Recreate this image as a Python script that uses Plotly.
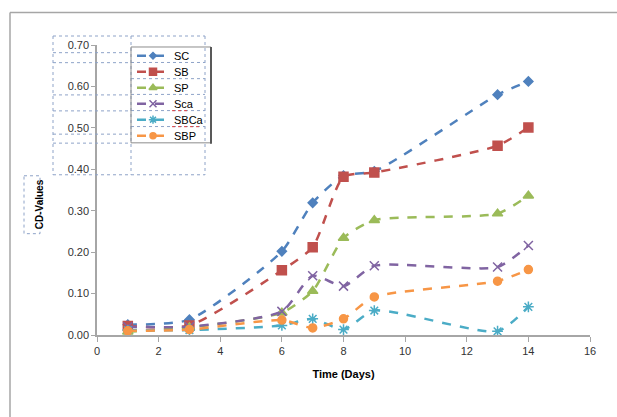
import plotly.graph_objects as go

# Sampling days and CD-values for each treatment
days = [1, 3, 6, 7, 8, 9, 13, 14]
SC = [0.025, 0.037, 0.202, 0.319, 0.385, 0.395, 0.580, 0.612]
SB = [0.022, 0.023, 0.156, 0.212, 0.382, 0.392, 0.457, 0.501]
SP = [0.008, 0.018, 0.054, 0.106, 0.234, 0.277, 0.293, 0.336]
Sca = [0.020, 0.020, 0.057, 0.143, 0.118, 0.167, 0.164, 0.216]
SBCa = [0.012, 0.012, 0.023, 0.039, 0.013, 0.059, 0.009, 0.068]
SBP = [0.010, 0.013, 0.036, 0.017, 0.039, 0.092, 0.130, 0.158]

x_ticks = [0, 2, 4, 6, 8, 10, 12, 14, 16]
y_ticks = [0.0, 0.1, 0.2, 0.3, 0.4, 0.5, 0.6, 0.7]

series = [
    ("SC", SC, "#4F81BD", "diamond", 7),
    ("SB", SB, "#C0504D", "square", 9),
    ("SP", SP, "#9BBB59", "triangle-up", 9),
    ("Sca", Sca, "#8064A2", "x-thin-open", 9),
    ("SBCa", SBCa, "#4BACC6", "asterisk-open", 9),
    ("SBP", SBP, "#F79646", "circle", 8),
]

W, H = 617, 417
L, R, T, B = 97, 27, 45, 81.5
PW, PH = W - L - R, H - T - B

FONT = "Liberation Sans, Arial, sans-serif"


def px(x):
    return (x - L) / PW


def py(y):
    return (H - B - y) / PH


fig = go.Figure()
for name, vals, color, sym, size in series:
    fig.add_trace(go.Scatter(
        x=days, y=vals, name=name, mode="lines+markers", showlegend=False,
        line=dict(color=color, width=2.5, dash="dash", shape="spline", smoothing=0.6),
        marker=dict(symbol=sym, size=size, color=color,
                    line=dict(color=color, width=1.5)),
    ))

# Legend box drawn on its own hidden axes, in pixel units of the box
LG_X0, LG_X1, LG_Y0, LG_Y1 = 131, 211, 47, 143
ROW = (LG_Y1 - LG_Y0) / len(series)
annotations = []
for i, (name, vals, color, sym, size) in enumerate(series):
    yc = LG_Y0 + ROW * (i + 0.55)
    fig.add_trace(go.Scatter(
        x=[137, 169], y=[yc, yc], mode="lines", showlegend=False, hoverinfo="skip",
        line=dict(color=color, width=2.5, dash="dash"), xaxis="x2", yaxis="y2"))
    fig.add_trace(go.Scatter(
        x=[153], y=[yc], mode="markers", showlegend=False, hoverinfo="skip",
        marker=dict(symbol=sym, size=size - 2, color=color, line=dict(color=color, width=1.5)),
        xaxis="x2", yaxis="y2"))
    annotations.append(dict(text=name, xref="x2", yref="y2", x=172, y=yc,
                            xanchor="left", yanchor="middle", showarrow=False,
                            font=dict(family=FONT, size=11, color="#000000")))

shapes = []
# outer chart frame
shapes.append(dict(type="line", xref="paper", yref="paper",
                   x0=px(10), x1=px(620), y0=py(12.5), y1=py(12.5),
                   line=dict(color="#A6A6A6", width=1.5)))
shapes.append(dict(type="line", xref="paper", yref="paper",
                   x0=px(10), x1=px(10), y0=py(12.5), y1=py(420),
                   line=dict(color="#A6A6A6", width=1.5)))

dot = dict(color="#8EA3C8", width=1, dash="dot")


def hline(x0, x1, y):
    shapes.append(dict(type="line", xref="paper", yref="paper",
                       x0=px(x0), x1=px(x1), y0=py(y), y1=py(y), line=dot))


def vline(x, y0, y1):
    shapes.append(dict(type="line", xref="paper", yref="paper",
                       x0=px(x), x1=px(x), y0=py(y0), y1=py(y1), line=dot))


# dotted frame grid around the upper tick labels and legend
hline(53, 205, 36)
hline(53, 205, 175)
vline(53, 36, 175)
vline(205, 36, 175)
vline(131, 36, 175)
for yy in [52.7, 62.7, 95, 111, 134.3, 143.3]:
    hline(53, 131, yy)
for yy in [62.5, 78.7, 94.5, 110.7, 126.7]:
    hline(131, 205, yy)
# dotted box around the y-axis title
shapes.append(dict(type="rect", xref="paper", yref="paper",
                   x0=px(24), x1=px(40), y0=py(176), y1=py(234), line=dot))

# legend border, darker on the right side
shapes.append(dict(type="rect", xref="paper", yref="paper",
                   x0=px(LG_X0), x1=px(LG_X1), y0=py(LG_Y1), y1=py(LG_Y0),
                   line=dict(color="#8C8C8C", width=1)))
shapes.append(dict(type="line", xref="paper", yref="paper",
                   x0=px(LG_X1), x1=px(LG_X1), y0=py(LG_Y1 + 1), y1=py(LG_Y0),
                   line=dict(color="#595959", width=2)))

# spell-check squiggles under two legend names
for i, wpx in [(3, 18), (4, 27)]:
    yy = LG_Y0 + ROW * (i + 0.55) + 7
    shapes.append(dict(type="line", xref="paper", yref="paper",
                       x0=px(172), x1=px(172 + wpx), y0=py(yy), y1=py(yy),
                       line=dict(color="#E04040", width=1, dash="dot")))

annotations.append(dict(text="<b>CD-Values</b>", xref="paper", yref="paper",
                        x=px(32), y=py(205), textangle=-90, showarrow=False,
                        font=dict(family=FONT, size=10, color="#000000")))

fig.update_layout(
    width=W, height=H,
    margin=dict(l=L, r=R, t=T, b=B),
    paper_bgcolor="white", plot_bgcolor="white",
    font=dict(family=FONT, size=11, color="#333333"),
    showlegend=False,
    xaxis=dict(range=[0, 16], tickvals=x_ticks, ticktext=[str(v) for v in x_ticks],
               showgrid=False, zeroline=False, showline=True, linecolor="#A6A6A6",
               linewidth=1.5, ticks="outside", ticklen=5, tickcolor="#A6A6A6",
               title=dict(text="<b>Time (Days)</b>", standoff=14,
                          font=dict(family=FONT, size=11, color="#000000"))),
    yaxis=dict(range=[0, 0.7], tickvals=y_ticks, ticktext=[f"{v:.2f}" for v in y_ticks],
               showgrid=False, zeroline=False, showline=True, linecolor="#A6A6A6",
               linewidth=1.5, ticks="outside", ticklen=4, tickcolor="#A6A6A6"),
    xaxis2=dict(domain=[px(LG_X0), px(LG_X1)], range=[LG_X0, LG_X1], anchor="y2",
                visible=False, fixedrange=True),
    yaxis2=dict(domain=[py(LG_Y1), py(LG_Y0)], range=[LG_Y1, LG_Y0], anchor="x2",
                visible=False, fixedrange=True),
    shapes=shapes,
    annotations=annotations,
)

fig.write_html("out.html")
